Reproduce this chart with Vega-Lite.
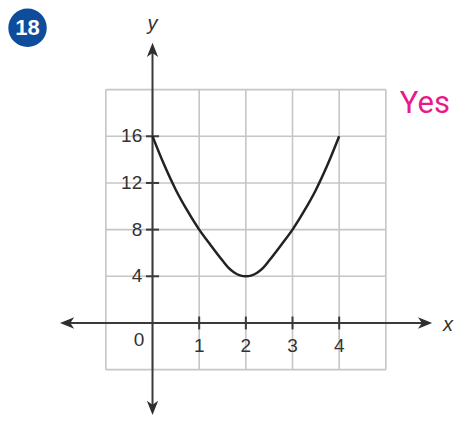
{
  "$schema": "https://vega.github.io/schema/vega-lite/v6.json",
  "width": 461,
  "height": 426,
  "autosize": "none",
  "padding": 0,
  "background": "white",
  "config": {"view": {"stroke": null}},
  "encoding": {
    "x": {"field": "x", "type": "quantitative", "scale": {"domain": [-3.268, 6.61], "nice": false, "zero": false}, "axis": null},
    "y": {"field": "y", "type": "quantitative", "scale": {"domain": [-8.83, 27.68], "nice": false, "zero": false}, "axis": null}
  },
  "layer": [
    {
      "data": {"values": [
        {"x": -1, "y": -4, "y2": 20}, {"x": 0, "y": -4, "y2": 20}, {"x": 1, "y": -4, "y2": 20},
        {"x": 2, "y": -4, "y2": 20}, {"x": 3, "y": -4, "y2": 20}, {"x": 4, "y": -4, "y2": 20}, {"x": 5, "y": -4, "y2": 20}
      ]},
      "mark": {"type": "rule", "color": "#c6c6c6", "strokeWidth": 1.6},
      "encoding": {"y2": {"field": "y2"}}
    },
    {
      "data": {"values": [
        {"x": -1, "x2": 5, "y": -4}, {"x": -1, "x2": 5, "y": 0}, {"x": -1, "x2": 5, "y": 4}, {"x": -1, "x2": 5, "y": 8},
        {"x": -1, "x2": 5, "y": 12}, {"x": -1, "x2": 5, "y": 16}, {"x": -1, "x2": 5, "y": 20}
      ]},
      "mark": {"type": "rule", "color": "#c6c6c6", "strokeWidth": 1.6},
      "encoding": {"x2": {"field": "x2"}}
    },
    {
      "data": {"values": [{"x": -1.85, "x2": 5.85, "y": 0}]},
      "mark": {"type": "rule", "color": "#3a3a3a", "strokeWidth": 2},
      "encoding": {"x2": {"field": "x2"}}
    },
    {
      "data": {"values": [{"x": 0, "y": -7.3, "y2": 23.4}]},
      "mark": {"type": "rule", "color": "#3a3a3a", "strokeWidth": 2},
      "encoding": {"y2": {"field": "y2"}}
    },
    {
      "data": {"values": [
        {"x": 1, "y": -0.55, "y2": 0.55}, {"x": 2, "y": -0.55, "y2": 0.55},
        {"x": 3, "y": -0.55, "y2": 0.55}, {"x": 4, "y": -0.55, "y2": 0.55}
      ]},
      "mark": {"type": "rule", "color": "#3a3a3a", "strokeWidth": 2},
      "encoding": {"y2": {"field": "y2"}}
    },
    {
      "data": {"values": [
        {"x": -0.14, "x2": 0.14, "y": 4}, {"x": -0.14, "x2": 0.14, "y": 8},
        {"x": -0.14, "x2": 0.14, "y": 12}, {"x": -0.14, "x2": 0.14, "y": 16}
      ]},
      "mark": {"type": "rule", "color": "#3a3a3a", "strokeWidth": 2},
      "encoding": {"x2": {"field": "x2"}}
    },
    {
      "data": {"values": [
        {"x": 5.84, "y": 0, "angle": 0}, {"x": -1.83, "y": 0, "angle": 180},
        {"x": 0, "y": 23.4, "angle": 270}, {"x": 0, "y": -7.28, "angle": 90}
      ]},
      "mark": {"type": "point", "filled": true, "color": "#2e2e2e", "opacity": 1, "size": 200, "shape": "M1,0L-1,-0.8L-0.45,0L-1,0.8Z"},
      "encoding": {"angle": {"field": "angle", "type": "quantitative", "scale": null}}
    },
    {
      "data": {"values": [
        {"x": 0, "y": 16}, {"x": 0.25, "y": 13.55}, {"x": 0.5, "y": 11.4}, {"x": 0.75, "y": 9.6},
        {"x": 1, "y": 8}, {"x": 1.25, "y": 6.65}, {"x": 1.5, "y": 5.35}, {"x": 1.625, "y": 4.75},
        {"x": 1.75, "y": 4.33}, {"x": 1.875, "y": 4.08}, {"x": 2, "y": 4}, {"x": 2.125, "y": 4.08},
        {"x": 2.25, "y": 4.33}, {"x": 2.375, "y": 4.75}, {"x": 2.5, "y": 5.35}, {"x": 2.75, "y": 6.65},
        {"x": 3, "y": 8}, {"x": 3.25, "y": 9.6}, {"x": 3.5, "y": 11.4}, {"x": 3.75, "y": 13.55}, {"x": 4, "y": 16}
      ]},
      "mark": {"type": "line", "color": "#222222", "strokeWidth": 2.5, "interpolate": "monotone"},
      "encoding": {}
    },
    {
      "data": {"values": [
        {"x": -0.22, "y": 4, "label": "4"}, {"x": -0.22, "y": 8, "label": "8"},
        {"x": -0.22, "y": 12, "label": "12"}, {"x": -0.22, "y": 16, "label": "16"}
      ]},
      "mark": {"type": "text", "align": "right", "baseline": "middle", "font": "Liberation Sans", "fontSize": 19, "color": "#333333"},
      "encoding": {"text": {"field": "label"}}
    },
    {
      "data": {"values": [
        {"x": 1, "y": -2.0, "label": "1"}, {"x": 2, "y": -2.0, "label": "2"},
        {"x": 3, "y": -2.0, "label": "3"}, {"x": 4, "y": -2.0, "label": "4"},
        {"x": -0.29, "y": -1.45, "label": "0"}
      ]},
      "mark": {"type": "text", "align": "center", "baseline": "middle", "font": "Liberation Sans", "fontSize": 19, "color": "#333333"},
      "encoding": {"text": {"field": "label"}}
    },
    {
      "data": {"values": [{"x": 6.33, "y": -0.15, "label": "x"}]},
      "mark": {"type": "text", "align": "center", "baseline": "middle", "font": "Liberation Sans", "fontStyle": "italic", "fontSize": 20, "color": "#333333"},
      "encoding": {"text": {"field": "label"}}
    },
    {
      "data": {"values": [{"x": 0, "y": 25.1, "label": "y"}]},
      "mark": {"type": "text", "align": "center", "baseline": "alphabetic", "font": "Liberation Sans", "fontStyle": "italic", "fontSize": 20, "color": "#333333"},
      "encoding": {"text": {"field": "label"}}
    },
    {
      "data": {"values": [{"x": 5.3, "y": 18.0, "label": "Yes"}]},
      "mark": {"type": "text", "align": "left", "baseline": "alphabetic", "font": "Liberation Sans Narrow, Roboto, sans-serif", "fontSize": 31, "color": "#e8198b"},
      "encoding": {"text": {"field": "label"}}
    },
    {
      "data": {"values": [{"x": -2.678, "y": 25.3}]},
      "mark": {"type": "point", "shape": "circle", "filled": true, "color": "#0f4c9c", "opacity": 1, "size": 1480},
      "encoding": {}
    },
    {
      "data": {"values": [{"x": -2.678, "y": 25.25, "label": "18"}]},
      "mark": {"type": "text", "align": "center", "baseline": "middle", "font": "Liberation Sans", "fontWeight": "bold", "fontSize": 22, "color": "white"},
      "encoding": {"text": {"field": "label"}}
    }
  ]
}
